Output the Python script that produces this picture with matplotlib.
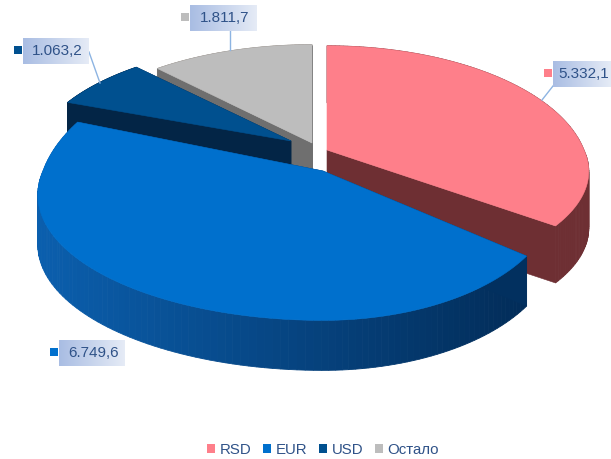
#!/usr/bin/env python3
import numpy as np
import matplotlib as mpl
mpl.use("Agg")
import matplotlib.pyplot as plt
from matplotlib.colors import to_rgb
from matplotlib.patches import Patch, Polygon, Rectangle

plt.rcParams["font.family"] = ["Liberation Sans", "DejaVu Sans"]

categories = ["RSD", "EUR", "USD", "Остало"]
values = [5332.1, 6749.6, 1063.2, 1811.7]
value_labels = ["5.332,1", "6.749,6", "1.063,2", "1.811,7"]

top_colors = ["#fe7f8a", "#0070cd", "#00508f", "#bdbdbd"]
cut_colors = ["#6e2f33", "#02305f", "#032546", "#6f6f6f"]
wall_left = ["#6e2f33", "#0b5fae", "#032546", "#8a8078"]
wall_right = ["#6e2f33", "#022c58", "#032546", "#8a8078"]
text_color = "#2f5288"

# pixel layout of each exploded slice
apex_x = [327, 323, 291, 312]
apex_y = [150, 171, 141, 143]
radius_left = [257, 280, 255, 255]
radius_right = [257, 229, 255, 255]
radius_up = [124, 147, 116, 117]
radius_down = [108, 121, 116, 117]
depth = [57, 50, 50, 50]
persp = 0.19

# label box: left, top, width, height; leader line from/to
box_x = [553, 59, 23, 190]
box_y = [61, 340, 38, 5]
box_w = [58, 66, 66, 67]
box_h = [26, 26, 26, 26]
leader = [(553, 86, 542, 100), None, (89, 52, 100, 83), (230, 31, 230, 50)]

draw_order = [3, 2, 0, 1]


def project(i, theta):
	X = np.sin(theta)
	Y = np.cos(theta)
	s = 1 / (1 + persp * Y)
	rx = np.where(X < 0, radius_left[i], radius_right[i])
	ry = np.where(Y > 0, radius_up[i], radius_down[i])
	return apex_x[i] + X * s * rx, apex_y[i] - Y * s * ry


def mix(c1, c2, t):
	c1, c2 = np.array(to_rgb(c1)), np.array(to_rgb(c2))
	return tuple(c1 + (c2 - c1) * t)


fig = plt.figure(figsize=(6.11, 4.59), dpi=100)
ax = fig.add_axes([0, 0, 1, 1])

angles = np.concatenate([[0], np.cumsum(values)]) / np.sum(values) * 2 * np.pi

for i in draw_order:
	z = 1 + draw_order.index(i)
	th = np.linspace(angles[i], angles[i + 1], 120)
	xs, ys = project(i, th)
	h = depth[i]

	# outer wall, shaded from left to right
	for j in range(len(th) - 1):
		t = (xs[j] - 37) / (530 - 37)
		col = mix(wall_left[i], wall_right[i], float(np.clip(t, 0, 1)))
		quad = [(xs[j], ys[j]), (xs[j + 1], ys[j + 1]), (xs[j + 1], ys[j + 1] + h), (xs[j], ys[j] + h)]
		ax.add_patch(Polygon(quad, closed=True, fc=col, ec=col, lw=0.6, zorder=z))

	# the two cut faces
	for x, y in [(xs[0], ys[0]), (xs[-1], ys[-1])]:
		ax.add_patch(Polygon([(apex_x[i], apex_y[i]), (x, y), (x, y + h), (apex_x[i], apex_y[i] + h)],
			closed=True, fc=cut_colors[i], ec=cut_colors[i], lw=0.4, zorder=z))

	top = np.column_stack([np.r_[apex_x[i], xs], np.r_[apex_y[i], ys]])
	ax.add_patch(Polygon(top, closed=True, fc=top_colors[i], ec=top_colors[i], lw=0.4, zorder=z))

gradient = np.linspace(0, 1, 64).reshape(1, -1, 1)
gradient = np.array(to_rgb("#a9bde3")) + gradient * (np.array(to_rgb("#e5ebf6")) - np.array(to_rgb("#a9bde3")))

for i in range(4):
	ax.imshow(gradient, extent=[box_x[i], box_x[i] + box_w[i], box_y[i] + box_h[i], box_y[i]],
		aspect="auto", zorder=6, interpolation="bilinear")
	ax.text(box_x[i] + box_w[i] / 2 + 1.5, box_y[i] + box_h[i] / 2, value_labels[i], ha="center", va="center",
		fontsize=11, color=text_color, zorder=7)
	ax.add_patch(Rectangle((box_x[i] - 9, box_y[i] + 8), 8, 8, fc=top_colors[i], ec="none", zorder=7))
	if leader[i]:
		x0, y0, x1, y1 = leader[i]
		ax.plot([x0, x1], [y0, y1], color="#8db4e2", lw=1, zorder=5)

handles = [Patch(fc=c, ec="none", label=n) for c, n in zip(top_colors, categories)]
ax.legend(handles=handles, loc="center", bbox_to_anchor=(323 / 611, 1 - 450 / 459), ncols=4, frameon=False,
	prop={"size": 10.8}, labelcolor=text_color, handlelength=0.55, handleheight=0.55,
	handletextpad=0.28, columnspacing=0.8, borderpad=0)

ax.set_xlim(0, 611)
ax.set_ylim(459, 0)
ax.axis("off")

plt.savefig("out.png", dpi=100)
